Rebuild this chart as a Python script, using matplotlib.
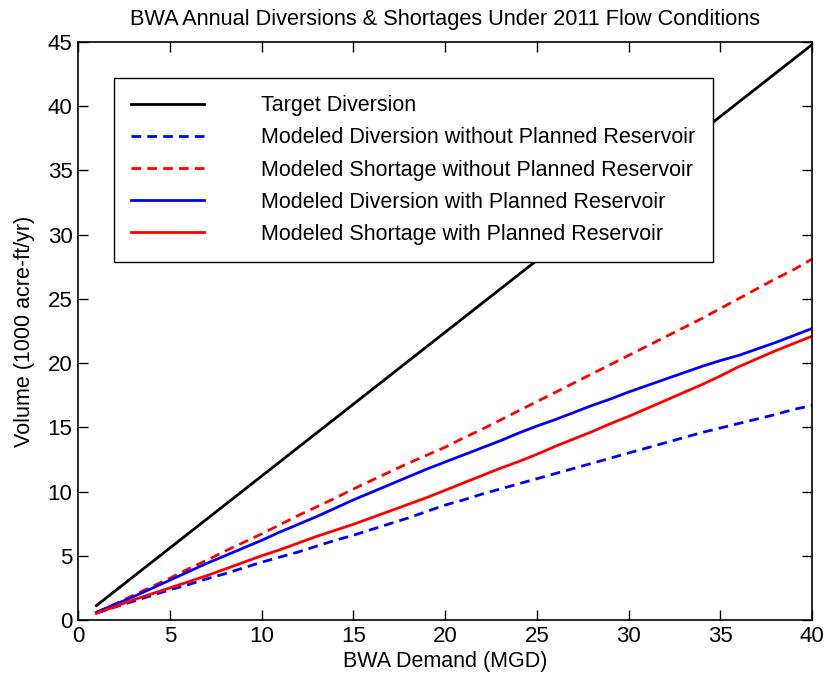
import matplotlib
matplotlib.use("Agg")
import matplotlib.pyplot as plt

demand = list(range(1, 41))
target = [1.12, 2.24, 3.36, 4.48, 5.6, 6.72, 7.84, 8.96, 10.08, 11.2, 12.32, 13.44, 14.56, 15.68,
          16.8, 17.92, 19.04, 20.16, 21.28, 22.4, 23.52, 24.64, 25.76, 26.88, 28.0, 29.12, 30.24,
          31.36, 32.48, 33.6, 34.72, 35.84, 36.96, 38.08, 39.2, 40.32, 41.44, 42.56, 43.68, 44.8]
div_without = [0.55, 1.0, 1.45, 1.9, 2.35, 2.75, 3.2, 3.6, 4.05, 4.5, 4.9, 5.3, 5.75, 6.2, 6.6,
               7.05, 7.5, 7.95, 8.45, 8.95, 9.35, 9.8, 10.2, 10.6, 11.0, 11.4, 11.8, 12.2, 12.6,
               13.0, 13.4, 13.8, 14.2, 14.6, 14.95, 15.3, 15.65, 16.0, 16.4, 16.7]
short_without = [0.57, 1.24, 1.91, 2.58, 3.25, 3.97, 4.64, 5.36, 6.03, 6.7, 7.42, 8.14, 8.81, 9.48,
                 10.2, 10.87, 11.54, 12.21, 12.83, 13.45, 14.17, 14.84, 15.56, 16.28, 17.0, 17.72,
                 18.44, 19.16, 19.88, 20.6, 21.32, 22.04, 22.76, 23.48, 24.25, 25.02, 25.79,
                 26.56, 27.28, 28.1]
div_with = [0.6, 1.2, 1.8, 2.45, 3.1, 3.75, 4.4, 5.0, 5.6, 6.2, 6.85, 7.45, 8.05, 8.7, 9.35,
            9.95, 10.55, 11.15, 11.75, 12.3, 12.85, 13.4, 13.95, 14.55, 15.1, 15.6, 16.15, 16.7,
            17.2, 17.75, 18.25, 18.75, 19.25, 19.75, 20.2, 20.6, 21.1, 21.6, 22.15, 22.7]
short_with = [0.52, 1.04, 1.56, 2.03, 2.5, 2.97, 3.44, 3.96, 4.48, 5.0, 5.47, 5.99, 6.51, 6.98,
              7.45, 7.97, 8.49, 9.01, 9.53, 10.1, 10.67, 11.24, 11.81, 12.33, 12.9, 13.52, 14.09,
              14.66, 15.28, 15.85, 16.47, 17.09, 17.71, 18.33, 19.0, 19.72, 20.34, 20.96, 21.53, 22.1]

labels = ["Target Diversion",
          "Modeled Diversion without Planned Reservoir",
          "Modeled Shortage without Planned Reservoir",
          "Modeled Diversion with Planned Reservoir",
          "Modeled Shortage with Planned Reservoir"]

plt.rcParams['font.family'] = ['Liberation Sans', 'DejaVu Sans']

fig = plt.figure(figsize=(8.27, 6.83), dpi=100)
ax = fig.add_axes([0.0943, 0.0922, 0.8877, 0.8463])

lw = 2.0
dash = (0, (3.5, 2.2))
ax.plot(demand, target, color='black', lw=lw, label=labels[0])
ax.plot(demand, div_without, color='#0000ff', lw=lw, ls=dash, label=labels[1])
ax.plot(demand, short_without, color='#ff0000', lw=lw, ls=dash, label=labels[2])
ax.plot(demand, div_with, color='#0000ff', lw=lw, label=labels[3])
ax.plot(demand, short_with, color='#ff0000', lw=lw, label=labels[4])

ax.set_xlim(0, 40)
ax.set_ylim(0, 45)
ax.set_xticks(range(0, 41, 5))
ax.set_yticks(range(0, 46, 5))
ax.tick_params(direction='in', length=7, width=1, top=True, right=True, labelsize=16, pad=4)
for s in ax.spines.values():
    s.set_linewidth(1.2)

ax.set_title("BWA Annual Diversions & Shortages Under 2011 Flow Conditions", fontsize=15.7, pad=12)
ax.set_xlabel("BWA Demand (MGD)", fontsize=15.5, labelpad=3)
ax.set_ylabel("Volume (1000 acre-ft/yr)", fontsize=15.5, labelpad=9)

leg = ax.legend(loc='upper left', bbox_to_anchor=(0.049, 0.9377), borderaxespad=0,
                fontsize=15.5, handlelength=3.4, handletextpad=2.65, borderpad=0.8,
                labelspacing=0.52, fancybox=False, edgecolor='black', framealpha=1)
leg.get_frame().set_linewidth(1.0)

fig.savefig("out.png", dpi=100)
